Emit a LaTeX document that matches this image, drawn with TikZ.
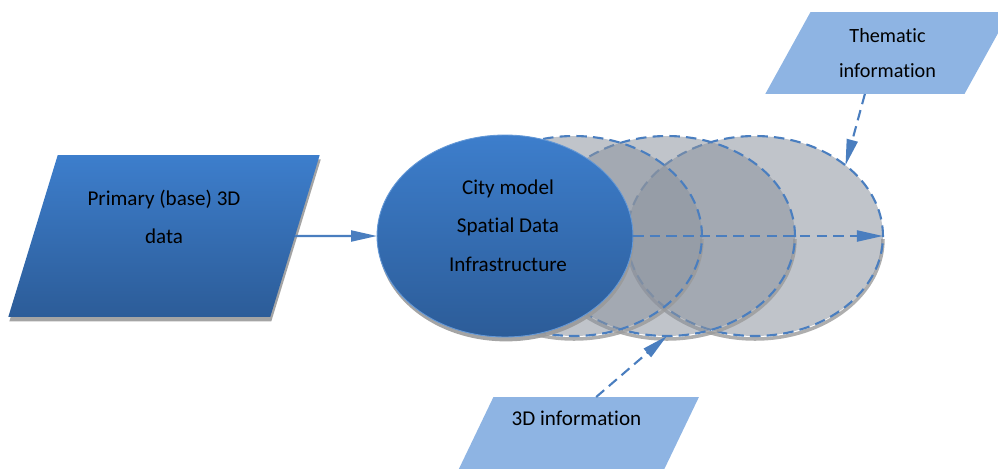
\documentclass[tikz,border=0pt]{standalone}
\usepackage{fontspec}
\setmainfont[Ligatures=NoCommon]{Carlito}
\usepackage{tikz}
\usetikzlibrary{shapes.geometric, arrows.meta, positioning, shadows}
\definecolor{CM_BLUE}{HTML}{3D7ECC}
\definecolor{CM_DEEP}{HTML}{2C5C98}
\definecolor{CM_LIGHT}{HTML}{8EB4E3}
\definecolor{CM_LINE}{HTML}{4A7EBF}
\definecolor{CM_GREY}{HTML}{8C939E}
\definecolor{CM_SHADE}{HTML}{9A9A9A}
\tikzset{
  txt/.style={font=\fontsize{12}{22}\selectfont, align=center, text=black},
  basedata/.style={
    trapezium, trapezium left angle=69, trapezium right angle=111,
    trapezium stretches=true, inner sep=0pt, outer sep=0pt,
    minimum width=6.24cm, minimum height=3.24cm, txt,
    top color=CM_BLUE, bottom color=CM_DEEP,
    drop shadow={shadow xshift=0.6pt, shadow yshift=-2.5pt, fill=CM_SHADE, opacity=0.9}},
  infodata/.style={
    trapezium, trapezium left angle=60, trapezium right angle=120,
    trapezium stretches=true, inner sep=0pt, outer sep=0pt,
    minimum width=4.9cm, minimum height=1.64cm, txt, fill=CM_LIGHT},
  citymodel/.style={
    ellipse, inner sep=0pt, outer sep=0pt,
    minimum width=5.12cm, minimum height=4.04cm,
    top color=CM_BLUE, bottom color=CM_DEEP, draw=CM_BLUE!80!white, line width=0.5pt,
    drop shadow={shadow xshift=0.6pt, shadow yshift=-2.5pt, fill=CM_SHADE, opacity=0.9}},
  layer/.style={
    ellipse, inner sep=0pt, outer sep=0pt,
    minimum width=5.12cm, minimum height=4.0cm,
    fill=CM_GREY, fill opacity=0.55,
    draw=CM_LINE, line width=1.2pt, dash pattern=on 6pt off 3.5pt},
  rim/.style={CM_SHADE, line width=2pt, opacity=0.8},
  arr/.style={-{Triangle[length=0.52cm, width=0.22cm]}, line width=1.2pt, CM_LINE},
  darr/.style={arr, dash pattern=on 6pt off 3.5pt},
}

\begin{document}
\begin{tikzpicture}[x=0.02cm, y=0.02cm]
  \useasboundingbox (0,0) rectangle (998,468);
  \clip (0,0) rectangle (998,468);

  % layers behind the city model
  \foreach \cx/\nm in {755/g3, 667/g2, 574/g1} {
    \draw[rim] (\cx,229) ++(-128,0) arc[start angle=180, end angle=360, x radius=128, y radius=100];
    \node[layer] (\nm) at (\cx,232) {};
  }

  \node[citymodel] (city) at (505,232) {};
  \node[txt] (citytxt) at (508,242.5) {City model\\Spatial Data\\Infrastructure};

  \node[basedata] (prim) at (164,232) {Primary (base) 3D\\data\\[0pt]};

  \node[infodata, font=\fontsize{11.5}{20}\selectfont] (them) at (887.5,415) {Thematic\\information};

  \node[infodata] (info3d) at (576.5,30) {3D information\\[0pt]};

  \draw[arr] (prim) -- (city);
  \draw[darr] (city.east) -- (g3.east);
  \draw[darr] (them.bottom side) -- (g3.north east);
  \draw[darr] (info3d.top side) -- (g2.south);

\end{tikzpicture}
\end{document}
